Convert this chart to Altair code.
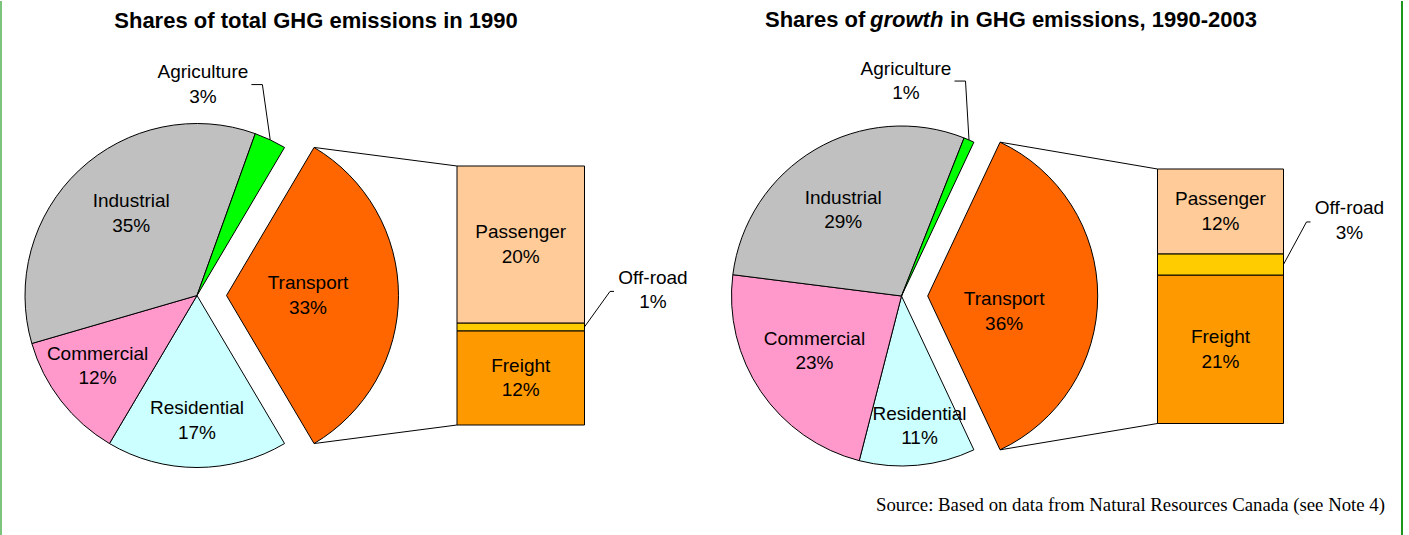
import math
import altair as alt
import pandas as pd

# ---------------- data ----------------
SECTORS = ["Transport", "Residential", "Commercial", "Industrial", "Agriculture"]
SHARES_1990 = [33, 17, 12, 35, 3]
SHARES_GROWTH = [36, 11, 23, 29, 1]

SUBSECTORS = ["Freight", "Off-road", "Passenger"]
SUB_1990 = [12, 1, 20]
SUB_GROWTH = [21, 3, 12]

TITLE_1990 = "Shares of total GHG emissions in 1990"
TITLE_GROWTH = ["Shares of", "growth", "in GHG emissions, 1990-2003"]
SOURCE = "Source: Based on data from Natural Resources Canada (see Note 4)"

# ---------------- styles ----------------
COLOR_NAMES = SECTORS + SUBSECTORS
COLOR_VALUES = ["#FF6600", "#CCFFFF", "#FF99CC", "#C0C0C0", "#00FF00",
                "#FF9900", "#FFCC00", "#FFCC99"]
FONT = "Liberation Sans"
LABEL_SIZE = 19
LINE_H = 24.5
BLOCK_DY = -LINE_H / 2  # centre two-line labels on their anchor

# ---------------- layout (panel-local pixels) ----------------
LAYOUT_LEFT = dict(
    width=700, cx=197, cy=294.5, r=172, explode=29.5,
    bar_x0=457, bar_x1=584.5, bar_top=165, bar_bot=424,
    label_r={"Transport": 81.5, "Residential": 125, "Commercial": 122,
             "Industrial": 105, "Agriculture": 211},
    label_nudge={"Transport": 0, "Residential": 0, "Commercial": 2.4,
                 "Industrial": 4.4, "Agriculture": -23.6},
    off_dx=68.5, off_dy=-37,
)
LAYOUT_RIGHT = dict(
    width=709, cx=201.5, cy=295, r=170, explode=26.2,
    bar_x0=457.5, bar_x1=583.5, bar_top=168, bar_bot=422.5,
    label_r={"Transport": 78, "Residential": 131, "Commercial": 103,
             "Industrial": 104, "Agriculture": 215},
    label_nudge={"Transport": 11.5, "Residential": -2.5, "Commercial": 1.9,
                 "Industrial": -3.5, "Agriculture": -22.2},
    off_dx=66, off_dy=-44,
)
HEIGHT = 535

ONE = pd.DataFrame({"k": [0]})
color_scale = alt.Scale(domain=COLOR_NAMES, range=COLOR_VALUES)


def seg(x1, y1, x2, y2, color="black", width=1):
    return alt.Chart(ONE).mark_rule(color=color, strokeWidth=width).encode(
        x=alt.value(x1), y=alt.value(y1), x2=alt.value(x2), y2=alt.value(y2))


def text_at(x, y, txt, size=LABEL_SIZE, weight="normal", style="normal",
            align="center", font=FONT):
    return alt.Chart(ONE).mark_text(
        text=txt, font=font, fontSize=size, fontWeight=weight, fontStyle=style,
        align=align, baseline="middle", color="black").encode(
        x=alt.value(x), y=alt.value(y))


def panel(shares, subs, L, extra):
    total_sub = shares[0]
    t0 = math.pi / 2 - math.pi * shares[0] / 100.0
    theta_scale = alt.Scale(domain=[0, 100], range=[t0, t0 + 2 * math.pi])

    pie_df = pd.DataFrame({
        "sector": SECTORS,
        "share": shares,
        "ord": list(range(len(SECTORS))),
        "label": [f"{s}\n{v}%" for s, v in zip(SECTORS, shares)],
        "lr": [L["label_r"][s] for s in SECTORS],
        "ln": [L["label_nudge"][s] / 3.6 for s in SECTORS],
    })
    base = alt.Chart(pie_df).transform_stack(
        stack="share", groupby=[], as_=["s0", "s1"],
        sort=[alt.SortField("ord", order="ascending")]
    ).transform_calculate(mid="(datum.s0 + datum.s1) / 2",
                          lt="(datum.s0 + datum.s1) / 2 + datum.ln")

    arc_enc = dict(
        theta=alt.Theta("s0:Q", scale=theta_scale, stack=False),
        theta2="s1:Q",
        color=alt.Color("sector:N", scale=color_scale, legend=None),
    )
    arcs = base.transform_filter("datum.sector != 'Transport'").mark_arc(
        radius=L["r"], stroke="black", strokeWidth=1).encode(
        x=alt.value(L["cx"]), y=alt.value(L["cy"]), **arc_enc)
    tcx = L["cx"] + L["explode"]
    tarc = base.transform_filter("datum.sector == 'Transport'").mark_arc(
        radius=L["r"], stroke="black", strokeWidth=1).encode(
        x=alt.value(tcx), y=alt.value(L["cy"]), **arc_enc)

    txt_kw = dict(font=FONT, fontSize=LABEL_SIZE, lineBreak="\n", lineHeight=LINE_H,
                  align="center", baseline="middle", color="black")
    lab_enc = dict(
        theta=alt.Theta("lt:Q", scale=theta_scale, stack=False),
        radius=alt.Radius("lr:Q", scale=None),
        text="label:N",
    )
    labels = base.transform_filter("datum.sector != 'Transport'").mark_text(
        dy=BLOCK_DY, **txt_kw).encode(
        x=alt.value(L["cx"]), y=alt.value(L["cy"]), **lab_enc)
    tlabel = base.transform_filter("datum.sector == 'Transport'").mark_text(
        dy=BLOCK_DY, **txt_kw).encode(
        x=alt.value(tcx), y=alt.value(L["cy"]), **lab_enc)

    # ---- stacked bar of transport split
    bar_df = pd.DataFrame({
        "sector": SUBSECTORS,
        "share": subs,
        "ord": list(range(len(SUBSECTORS))),
        "label": [f"{s}\n{v}%" for s, v in zip(SUBSECTORS, subs)],
    })
    y_scale = alt.Scale(domain=[0, total_sub], range=[L["bar_bot"], L["bar_top"]])
    bbase = alt.Chart(bar_df).transform_stack(
        stack="share", groupby=[], as_=["b0", "b1"],
        sort=[alt.SortField("ord", order="ascending")]
    ).transform_calculate(bm="(datum.b0 + datum.b1) / 2")
    bars = bbase.mark_bar(stroke="black", strokeWidth=1).encode(
        x=alt.value(L["bar_x0"]), x2=alt.value(L["bar_x1"]),
        y=alt.Y("b0:Q", scale=y_scale, axis=None), y2="b1:Q",
        color=alt.Color("sector:N", scale=color_scale, legend=None))
    bcx = (L["bar_x0"] + L["bar_x1"]) / 2
    blabels = bbase.transform_filter("datum.sector != 'Off-road'").mark_text(
        dy=BLOCK_DY, **txt_kw).encode(
        x=alt.value(bcx), y=alt.Y("bm:Q", scale=y_scale, axis=None), text="label:N")
    olabel = bbase.transform_filter("datum.sector == 'Off-road'").mark_text(
        dy=L["off_dy"] + BLOCK_DY, **txt_kw).encode(
        x=alt.value(L["bar_x1"] + L["off_dx"]), y=alt.Y("bm:Q", scale=y_scale, axis=None),
        text="label:N")

    layers = [arcs, tarc, bars, labels, tlabel, blabels, olabel]

    # ---- connector lines from exploded slice to bar
    a_top = t0
    a_bot = t0 + 2 * math.pi * shares[0] / 100.0
    r = L["r"]
    layers.append(seg(tcx + r * math.sin(a_top), L["cy"] - r * math.cos(a_top),
                      L["bar_x0"], L["bar_top"]))
    layers.append(seg(tcx + r * math.sin(a_bot), L["cy"] - r * math.cos(a_bot),
                      L["bar_x0"], L["bar_bot"]))

    # ---- leader line for Agriculture
    cum = sum(shares[:4])
    mid = cum + shares[4] / 2.0
    a_mid = t0 + 2 * math.pi * mid / 100.0
    a_lab = a_mid + math.radians(L["label_nudge"]["Agriculture"])
    lr = L["label_r"]["Agriculture"]
    lx, ly = L["cx"] + lr * math.sin(a_lab), L["cy"] - lr * math.cos(a_lab)
    px, py = L["cx"] + r * math.sin(a_mid), L["cy"] - r * math.cos(a_mid)
    layers.append(seg(px, py, lx + 59.5, ly))
    layers.append(seg(lx + 59.5, ly, lx + 48.5, ly))

    # ---- leader line for Off-road
    off_mid = subs[0] + subs[1] / 2.0
    oy = L["bar_bot"] - off_mid / total_sub * (L["bar_bot"] - L["bar_top"])
    olx = L["bar_x1"] + L["off_dx"]
    oly = oy + L["off_dy"]
    layers.append(seg(L["bar_x1"], oy, olx - 43, oly + 1.5))
    layers.append(seg(olx - 43, oly + 1.5, olx - 39, oly + 1.5))

    layers += extra
    return alt.layer(*layers).properties(width=L["width"], height=HEIGHT)


left_extra = [
    text_at(316, 20, TITLE_1990, size=22, weight="bold"),
    seg(1, 0, 1, HEIGHT, color="#7CC47C", width=2),
]
right_extra = [
    text_at(65, 19, TITLE_GROWTH[0], size=22, weight="bold", align="left"),
    text_at(170, 19, TITLE_GROWTH[1], size=22, weight="bold", style="italic", align="left"),
    text_at(250, 19, TITLE_GROWTH[2], size=22, weight="bold", align="left"),
    text_at(685, 504, SOURCE, size=18.8, align="right", font="Liberation Serif"),
    seg(702, 0, 702, HEIGHT, color="#1E961E", width=2),
]

chart = alt.hconcat(
    panel(SHARES_1990, SUB_1990, LAYOUT_LEFT, left_extra),
    panel(SHARES_GROWTH, SUB_GROWTH, LAYOUT_RIGHT, right_extra),
    spacing=0,
).properties(padding=0, background="white").configure_view(stroke=None)

chart.save("out.html", embed_options={"renderer": "svg", "actions": False})
